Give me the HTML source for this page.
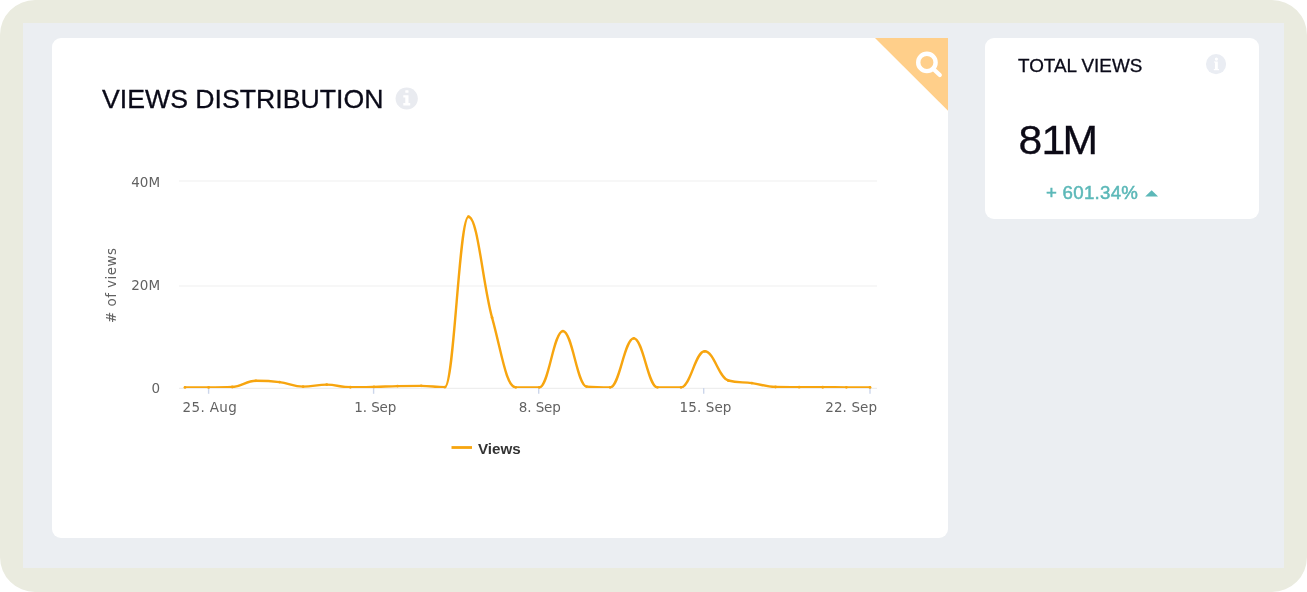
<!DOCTYPE html>
<html lang="en">
<head>
<meta charset="utf-8">
<title>Views Distribution</title>
<style>
  html, body { margin: 0; padding: 0; background: #ffffff; }
  body { width: 1307px; height: 592px; overflow: hidden; position: relative;
         font-family: "Liberation Sans", sans-serif; }
  .frame { position: absolute; left: 0; top: 0; width: 1307px; height: 592px; box-sizing: border-box;
           background: #ebeef2; border: solid #eaebdf; border-width: 23px 23px 24px 23px; border-radius: 35px; }
  .frame-inner { position:absolute; left:23px; top:23px; width:1261px; height:545px; background:#ebeef2; }
  .card { position: absolute; background: #ffffff; border-radius: 9px; }
  #main { left: 52px; top: 38px; width: 896px; height: 500px; }
  #stat { left: 985px; top: 38px; width: 274px; height: 181px; }
  .title { position: absolute; left: 102px; top: 85px; font-size: 25.4px; line-height: 28px; color: #0a0a18;
           letter-spacing: 0px; white-space: nowrap; transform: scaleX(1.05); transform-origin: 0 0; -webkit-text-stroke: 0.3px #0a0a18; }
  .info { position: absolute; }
  .corner { position: absolute; left: 875px; top: 38px; width: 73px; height: 73px; }
  .stat-title { position: absolute; left: 1018px; top: 55.3px; font-size: 18.4px; line-height: 22px; color: #0a0a18; white-space: nowrap; letter-spacing: 0px; transform: scaleX(1.025); transform-origin: 0 0; -webkit-text-stroke: 0.3px #0a0a18; }
  .stat-delta { position: absolute; left: 1046.3px; top: 181.5px; font-size: 17.8px; line-height: 22px; color: #5cb8b8; white-space: nowrap; font-weight: 400; letter-spacing: 0.25px; transform: scaleX(1.05); transform-origin: 0 0; -webkit-text-stroke: 0.5px #5cb8b8; }
  svg text { font-family: "DejaVu Sans", "Liberation Sans", sans-serif; }
</style>
</head>
<body>
<div class="frame"></div>
<div class="frame-inner"></div>
<div class="card" id="main"></div>
<div class="card" id="stat"></div>

<svg class="corner" viewBox="0 0 73 73" width="73" height="73">
  <polygon points="0,0 73,0 73,72.7" fill="#ffcf8a"/>
  <circle cx="51.9" cy="24.4" r="8.7" fill="none" stroke="#ffffff" stroke-width="4.4"/>
  <line x1="58.6" y1="31.2" x2="64.8" y2="37" stroke="#ffffff" stroke-width="4.2" stroke-linecap="round"/>
</svg>

<div class="title">VIEWS DISTRIBUTION</div>
<svg class="info" style="left:395.2px;top:87.2px" width="23" height="23" viewBox="0 0 23 23">
  <circle cx="11.7" cy="11.5" r="11.1" fill="#e9ebf0"/>
  <rect x="10.3" y="3.3" width="3.2" height="2.5" rx="0.5" fill="#ffffff"/>
  <path d="M8.3 8.3 H13.5 V16 H15.2 V18.4 H8.3 V16 H10.3 V10.6 H8.3 Z" fill="#ffffff"/>
</svg>

<svg style="position:absolute;left:0;top:0" width="1307" height="592" viewBox="0 0 1307 592">
  <g fill="none" stroke="#f7f7f7" stroke-width="2">
    <line x1="179" y1="181" x2="877" y2="181"/>
    <line x1="179" y1="286" x2="877" y2="286"/>
  </g>
  <line x1="179" y1="388.4" x2="877" y2="388.4" stroke="#eeeeee" stroke-width="1.2"/>
  <g stroke="#ccd6eb" stroke-width="1.4">
    <line x1="208.6" y1="388" x2="208.6" y2="393.8"/>
    <line x1="373.6" y1="388" x2="373.6" y2="393.8"/>
    <line x1="538.7" y1="388" x2="538.7" y2="393.8"/>
    <line x1="703.7" y1="388" x2="703.7" y2="393.8"/>
    <line x1="870" y1="388" x2="870" y2="393.8"/>
  </g>
  <clipPath id="plotclip"><rect x="179" y="170" width="700" height="218.1"/></clipPath>
  <path clip-path="url(#plotclip)" d="M 185.00 387.40 C 185.00 387.40 199.17 387.40 208.62 387.40 C 218.07 387.40 222.79 387.40 232.24 386.99 C 241.69 386.57 246.41 380.79 255.86 380.79 C 265.31 380.79 270.03 380.92 279.48 382.09 C 288.93 383.25 293.66 386.62 303.10 386.62 C 312.55 386.62 317.28 384.67 326.72 384.67 C 336.17 384.67 340.90 387.24 350.34 387.24 C 359.79 387.24 364.52 387.11 373.97 386.88 C 383.41 386.65 388.14 386.31 397.59 386.11 C 407.03 385.90 411.76 385.85 421.21 385.85 C 430.66 385.85 435.38 387.14 444.83 387.14 C 454.28 387.14 459.00 216.74 468.45 216.74 C 477.90 216.74 482.62 283.53 492.07 317.66 C 501.52 351.79 506.24 387.40 515.69 387.40 C 525.14 387.40 529.86 387.40 539.31 387.40 C 548.76 387.40 553.48 331.11 562.93 331.11 C 572.38 331.11 577.10 385.85 586.55 386.62 C 596.00 387.40 600.72 387.40 610.17 387.40 C 619.62 387.40 624.34 338.36 633.79 338.36 C 643.24 338.36 647.97 387.40 657.41 387.40 C 666.86 387.40 671.59 387.40 681.03 387.40 C 690.48 387.40 695.21 351.29 704.66 351.29 C 714.10 351.29 718.83 377.95 728.28 380.53 C 737.72 383.12 742.45 381.83 751.90 383.12 C 761.34 384.41 766.07 386.83 775.52 386.99 C 784.97 387.14 789.69 387.09 799.14 387.14 C 808.59 387.19 813.31 387.20 822.76 387.24 C 832.21 387.29 836.93 387.32 846.38 387.35 C 855.83 387.38 870.00 387.40 870.00 387.40" fill="none" stroke="#f7a50f" stroke-width="2.4" stroke-linejoin="round" stroke-linecap="round"/>
  <g fill="#f7a50f"><circle cx="185.00" cy="387.40" r="1.4"/><circle cx="208.62" cy="387.40" r="1.4"/><circle cx="232.24" cy="386.99" r="1.4"/><circle cx="255.86" cy="380.79" r="1.4"/><circle cx="279.48" cy="382.09" r="1.4"/><circle cx="303.10" cy="386.62" r="1.4"/><circle cx="326.72" cy="384.67" r="1.4"/><circle cx="350.34" cy="387.24" r="1.4"/><circle cx="373.97" cy="386.88" r="1.4"/><circle cx="397.59" cy="386.11" r="1.4"/><circle cx="421.21" cy="385.85" r="1.4"/><circle cx="444.83" cy="387.14" r="1.4"/><circle cx="468.45" cy="216.74" r="1.4"/><circle cx="492.07" cy="317.66" r="1.4"/><circle cx="515.69" cy="387.40" r="1.4"/><circle cx="539.31" cy="387.40" r="1.4"/><circle cx="562.93" cy="331.11" r="1.4"/><circle cx="586.55" cy="386.62" r="1.4"/><circle cx="610.17" cy="387.40" r="1.4"/><circle cx="633.79" cy="338.36" r="1.4"/><circle cx="657.41" cy="387.40" r="1.4"/><circle cx="681.03" cy="387.40" r="1.4"/><circle cx="704.66" cy="351.29" r="1.4"/><circle cx="728.28" cy="380.53" r="1.4"/><circle cx="751.90" cy="383.12" r="1.4"/><circle cx="775.52" cy="386.99" r="1.4"/><circle cx="799.14" cy="387.14" r="1.4"/><circle cx="822.76" cy="387.24" r="1.4"/><circle cx="846.38" cy="387.35" r="1.4"/><circle cx="870.00" cy="387.40" r="1.4"/></g>
  <g font-size="13.5" fill="#626262" text-anchor="end" letter-spacing="0.1">
    <text x="160.3" y="186.8">40M</text>
    <text x="160.3" y="289.8">20M</text>
    <text x="160.3" y="392.6">0</text>
  </g>
  <g font-size="13.5" fill="#626262" text-anchor="middle" letter-spacing="0.35">
    <text x="209.9" y="412">25. Aug</text>
    <text x="375.3" y="412" letter-spacing="-0.1">1. Sep</text>
    <text x="539.8" y="412" letter-spacing="-0.1">8. Sep</text>
    <text x="705.5" y="412" letter-spacing="0.1">15. Sep</text>
    <text x="851.2" y="412" letter-spacing="0.1">22. Sep</text>
  </g>
  <text font-size="13.5" fill="#626262" text-anchor="middle" letter-spacing="0.45" transform="translate(116 285.3) rotate(-90)"># of views</text>
  <line x1="451.5" y1="447.5" x2="472" y2="447.5" stroke="#f7a50f" stroke-width="2.8"/>
  <text x="478" y="454" font-size="15.2" font-weight="700" fill="#333333" style="font-family:'Liberation Sans',sans-serif">Views</text>
</svg>

<div class="stat-title">TOTAL VIEWS</div>
<svg class="info" style="left:1205px;top:53px" width="22" height="22" viewBox="0 0 22 22">
  <circle cx="11.05" cy="11.1" r="10.1" fill="#eaedf3"/>
  <circle cx="11.4" cy="6.1" r="1.6" fill="#ffffff"/>
  <path d="M9 8.5 H12.8 V15.9 H14 V17.2 H8.8 V15.9 H9.95 V9.6 H9 Z" fill="#ffffff"/>
</svg>
<svg class="stat-value-svg" style="position:absolute;left:1010px;top:110px" width="120" height="60" viewBox="0 0 120 60">
  <text transform="translate(0 44.3) scale(1.06 1)" x="7.92 29.82 49.45" y="0" font-size="40.3" fill="#0c0a16" stroke="#0c0a16" stroke-width="0.3" style="font-family:'Liberation Sans',sans-serif">81M</text>
</svg>
<div class="stat-delta">+ 601.34%</div>
<svg style="position:absolute;left:1145px;top:190px" width="14" height="7" viewBox="0 0 14 7"><polygon points="0.2,6.6 6.65,0.2 13.1,6.6" fill="#5cb8b8"/></svg>
</body>
</html>
